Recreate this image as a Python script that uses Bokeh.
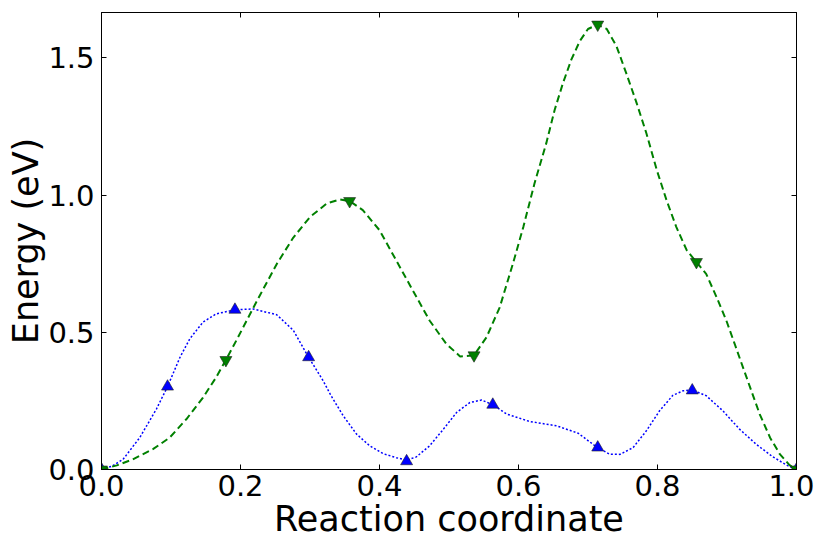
from bokeh.plotting import figure
from bokeh.models import Range1d, LinearAxis, FixedTicker, PrintfTickFormatter
from bokeh.embed import file_html
from bokeh.resources import INLINE

# Image markers (blue, triangle up)
blue_x = [0.000, 0.095, 0.192, 0.298, 0.439, 0.563, 0.714, 0.850, 1.000]
blue_y = [0.000, 0.302, 0.582, 0.409, 0.030, 0.236, 0.080, 0.288, 0.000]

# Blue fitted curve
blue_curve_x = [0.000, 0.015, 0.031, 0.055, 0.079, 0.095, 0.113, 0.127, 0.146, 0.165,
                0.192, 0.218, 0.252, 0.276, 0.298, 0.319, 0.330, 0.348, 0.367, 0.386,
                0.405, 0.424, 0.439, 0.453, 0.472, 0.492, 0.511, 0.530, 0.547, 0.563,
                0.583, 0.616, 0.655, 0.686, 0.707, 0.714, 0.731, 0.746, 0.765, 0.784,
                0.803, 0.822, 0.837, 0.850, 0.870, 0.894, 0.918, 0.942, 0.966, 0.988,
                1.000]
blue_curve_y = [0.000, 0.012, 0.037, 0.116, 0.220, 0.302, 0.409, 0.476, 0.537, 0.567,
                0.582, 0.585, 0.564, 0.507, 0.409, 0.323, 0.270, 0.195, 0.129, 0.086,
                0.058, 0.043, 0.034, 0.046, 0.086, 0.147, 0.208, 0.244, 0.253, 0.236,
                0.202, 0.175, 0.159, 0.132, 0.092, 0.080, 0.056, 0.055, 0.080, 0.141,
                0.214, 0.270, 0.287, 0.290, 0.269, 0.214, 0.147, 0.092, 0.046, 0.013,
                0.000]

# Image markers (green, triangle down)
green_x = [0.000, 0.179, 0.357, 0.536, 0.714, 0.856, 1.000]
green_y = [0.000, 0.399, 0.978, 0.416, 1.621, 0.756, 0.000]

# Green fitted curve
green_curve_x = [0.000, 0.022, 0.045, 0.074, 0.098, 0.122, 0.146, 0.165, 0.179, 0.194,
                 0.217, 0.228, 0.252, 0.276, 0.300, 0.324, 0.343, 0.357, 0.376, 0.400,
                 0.424, 0.448, 0.472, 0.496, 0.516, 0.536, 0.554, 0.573, 0.592, 0.607,
                 0.623, 0.640, 0.652, 0.664, 0.676, 0.688, 0.700, 0.714, 0.727, 0.741,
                 0.755, 0.770, 0.784, 0.799, 0.813, 0.827, 0.842, 0.856, 0.870, 0.885,
                 0.899, 0.911, 0.923, 0.935, 0.947, 0.962, 0.976, 0.990, 1.000]
green_curve_y = [0.000, 0.015, 0.037, 0.074, 0.116, 0.183, 0.262, 0.336, 0.399, 0.470,
                 0.582, 0.635, 0.748, 0.845, 0.920, 0.969, 0.984, 0.978, 0.945, 0.872,
                 0.762, 0.652, 0.543, 0.458, 0.412, 0.416, 0.482, 0.591, 0.750, 0.884,
                 1.042, 1.189, 1.310, 1.408, 1.493, 1.560, 1.605, 1.621, 1.605, 1.542,
                 1.444, 1.335, 1.225, 1.091, 0.981, 0.884, 0.799, 0.756, 0.713, 0.628,
                 0.543, 0.458, 0.372, 0.287, 0.202, 0.116, 0.056, 0.016, 0.000]

x_ticks = [0.0, 0.2, 0.4, 0.6, 0.8, 1.0]
y_ticks = [0.0, 0.5, 1.0, 1.5]
x_label = "Reaction coordinate"
y_label = "Energy (eV)"

FONT = "DejaVu Sans"

p = figure(frame_width=695, frame_height=457,
           x_range=Range1d(0, 1), y_range=Range1d(0, 1.665),
           output_backend="svg", toolbar_location=None,
           min_border_left=101, min_border_right=18, min_border_top=12, min_border_bottom=77)

p.grid.visible = False
p.outline_line_color = "black"
p.outline_line_width = 1
p.background_fill_color = "white"
p.border_fill_color = "white"

p.line(blue_curve_x, blue_curve_y, line_color="#0000ff", line_width=1.5, line_dash="2 2")
p.line(green_curve_x, green_curve_y, line_color="#008000", line_width=2, line_dash="7 4")
p.scatter(blue_x, blue_y, marker="triangle", size=12, fill_color="#0000ff",
          line_color="#222222", line_width=0.6)
p.scatter(green_x, green_y, marker="inverted_triangle", size=12, fill_color="#008000",
          line_color="#222222", line_width=0.6)

for ax in (p.xaxis[0], p.yaxis[0]):
    ax.major_tick_in = 5
    ax.major_tick_out = 0
    ax.minor_tick_in = 0
    ax.minor_tick_out = 0
    ax.axis_line_color = "black"
    ax.major_tick_line_color = "black"
    ax.major_label_text_font = FONT
    ax.major_label_text_font_size = "29px"
    ax.major_label_text_color = "black"
    ax.axis_label_text_font = FONT
    ax.axis_label_text_font_size = "35px"
    ax.axis_label_text_font_style = "normal"
    ax.axis_label_text_color = "black"
    ax.formatter = PrintfTickFormatter(format="%.1f")

p.xaxis[0].ticker = FixedTicker(ticks=x_ticks)
p.yaxis[0].ticker = FixedTicker(ticks=y_ticks)
p.xaxis[0].axis_label = x_label
p.yaxis[0].axis_label = y_label
p.xaxis[0].major_label_standoff = 5
p.xaxis[0].axis_label_standoff = 0
p.yaxis[0].major_label_standoff = 7
p.yaxis[0].axis_label_standoff = -1

top = LinearAxis(ticker=FixedTicker(ticks=x_ticks), major_label_text_font_size="0px",
                 major_tick_in=5, major_tick_out=0, minor_tick_in=0, minor_tick_out=0,
                 axis_line_color="black", major_label_standoff=0)
right = LinearAxis(ticker=FixedTicker(ticks=y_ticks), major_label_text_font_size="0px",
                   major_tick_in=5, major_tick_out=0, minor_tick_in=0, minor_tick_out=0,
                   axis_line_color="black", major_label_standoff=0)
top.major_label_text_alpha = 0
right.major_label_text_alpha = 0
p.add_layout(top, "above")
p.add_layout(right, "right")

open("out.html", "w").write(file_html(p, INLINE))
